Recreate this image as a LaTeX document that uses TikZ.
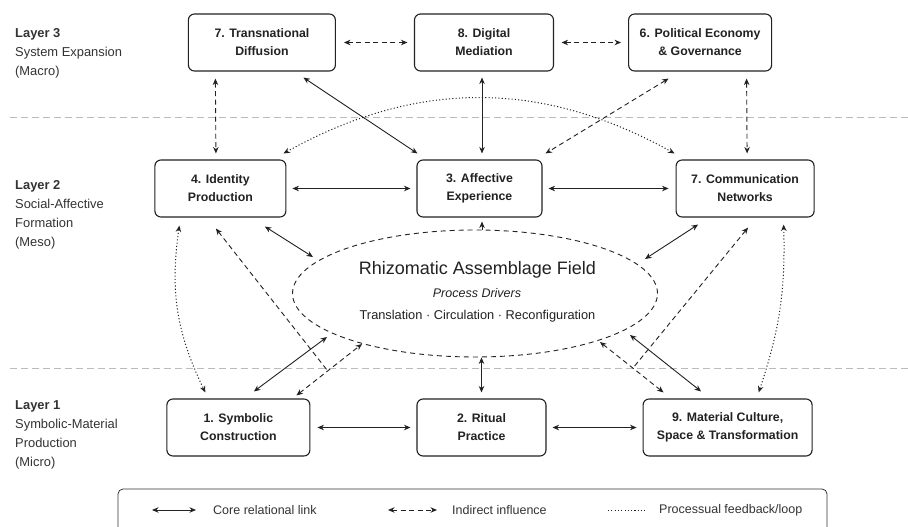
\documentclass[tikz,border=0pt]{standalone}
\usepackage{fontspec}
\setmainfont{Liberation Sans}
\usepackage{xcolor}
\definecolor{inkgrey}{HTML}{222222}
\definecolor{labelgrey}{HTML}{333333}
\definecolor{rulegrey}{HTML}{BBBBBB}
\usepackage{tikz}
\usetikzlibrary{arrows.meta}
\usetikzlibrary{positioning,shapes.geometric}

\tikzset{
  >={Stealth[length=6.5pt,width=5.5pt]},
  procbox/.style={draw=inkgrey, line width=1.1pt, rounded corners=6pt,
    align=center, minimum height=57pt, inner sep=0pt, text=inkgrey,
    font=\bfseries\fontsize{12.3}{18}\selectfont},
  core/.style={<->, draw=inkgrey, line width=0.9pt},
  indirect/.style={core, dash pattern=on 5pt off 3.5pt},
  feedback/.style={core, line width=1pt, dash pattern=on 1.1pt off 2.2pt},
  layerlabel/.style={anchor=north west, align=left, inner sep=0pt,
    text=labelgrey, font=\fontsize{12.9}{19}\selectfont},
  sepline/.style={draw=rulegrey, line width=0.8pt, dash pattern=on 7pt off 4pt},
  legendtext/.style={anchor=west, inner sep=0pt, text=labelgrey,
    font=\fontsize{12.5}{15}\selectfont},
}

\begin{document}
\begin{tikzpicture}[x=1pt, y=1pt]
    \path[fill=white, use as bounding box] (0,0) rectangle (908,-527);

    % layer separators
    \draw[sepline] (10,-117) -- (908,-117);
    \draw[sepline] (10,-368) -- (908,-368);

    % layer labels
    \node[layerlabel] (layer3) at (15,-28) {\textbf{Layer 3}\\System Expansion\\(Macro)};
    \node[layerlabel] (layer2) at (15,-180) {\textbf{Layer 2}\\Social-Affective\\Formation\\(Meso)};
    \node[layerlabel] (layer1) at (15,-400) {\textbf{Layer 1}\\Symbolic-Material\\Production\\(Micro)};

    % macro row
    \node[procbox, minimum width=139pt] (dig) at (484,-42.5) {8. Digital\\Mediation};
    \node[procbox, minimum width=147pt] (trans) [left=78pt of dig] {7. Transnational\\Diffusion};
    \node[procbox, minimum width=143pt] (pol) [right=74pt of dig] {6. Political Economy\\\& Governance};

    % meso row
    \node[procbox, minimum width=125pt] (aff) at (479.5,-188.5) {3. Affective\\Experience};
    \node[procbox, minimum width=131pt] (ident) [left=130pt of aff] {4. Identity\\Production};
    \node[procbox, minimum width=138pt] (comm) [right=133pt of aff] {7. Communication\\Networks};

    % micro row
    \node[procbox, minimum width=129pt] (rit) at (481.5,-427.5) {2. Ritual\\Practice};
    \node[procbox, minimum width=143pt] (symb) [left=106pt of rit] {1. Symbolic\\Construction};
    \node[procbox, minimum width=169pt] (mat) [right=96pt of rit] {9. Material Culture,\\Space \& Transformation};

    % assemblage field
    \node[ellipse, draw=inkgrey, line width=0.9pt, dash pattern=on 5pt off 4pt,
          minimum width=365pt, minimum height=127pt, inner sep=0pt] (field) at (475,-293.5) {};
    \node[text=inkgrey, font=\fontsize{18}{20}\selectfont] (fieldname) at (477.5,-270) {Rhizomatic Assemblage Field};
    \node[text=inkgrey, font=\itshape\fontsize{12.5}{15}\selectfont] (fielddrv) at (477,-293) {Process Drivers};
    \node[text=inkgrey, font=\fontsize{12.8}{15}\selectfont] (fieldproc) at (477.5,-316) {Translation · Circulation · Reconfiguration};

    % free tails
    \coordinate (identtail) at (327,-370);
    \coordinate (commtail) at (633,-368);

    % core links
    \draw[core] ([shift={(41.5,-6)}]trans.south) -- ([shift={(1,6)}]aff.north west);
    \draw[core] ([shift={(-2,-6)}]dig.south) -- ([shift={(2.5,6)}]aff.north);
    \draw[core] ([xshift=6pt]ident.east) -- ([xshift=-6pt]aff.west);
    \draw[core] ([xshift=6pt]aff.east) -- ([xshift=-7pt]comm.west);
    \draw[core] ([shift={(44.5,-9)}]ident.south) -- ([shift={(-162,36.5)}]field.center);
    \draw[core] ([shift={(-47,-7)}]comm.south) -- ([shift={(170,34.5)}]field.center);
    \draw[core] ([shift={(15.5,7)}]symb.north) -- ([shift={(-148,-43.5)}]field.center);
    \draw[core] ([yshift=6pt]rit.north) -- ([xshift=6.5pt]field.south);
    \draw[core] ([shift={(-26.5,7)}]mat.north) -- ([shift={(155,-41.5)}]field.center);
    \draw[core] ([xshift=7pt]symb.east) -- ([xshift=-6pt]rit.west);
    \draw[core] ([xshift=6pt]rit.east) -- ([xshift=-6pt]mat.west);

    % indirect influence
    \draw[indirect] ([xshift=8pt]trans.east) -- ([xshift=-6.5pt]dig.west);
    \draw[indirect] ([xshift=7.5pt]dig.east) -- ([xshift=-7pt]pol.west);
    \draw[indirect] ([shift={(-46.5,-7)}]trans.south) -- ([shift={(-4.5,6)}]ident.north);
    \draw[indirect] ([shift={(-31.5,-7)}]pol.south) -- ([shift={(3,6)}]aff.north east);
    \draw[indirect] ([shift={(46.5,-7)}]pol.south) -- ([shift={(2,6)}]comm.north);
    \draw[indirect, <-] ([shift={(-4.5,-11)}]ident.south) -- (identtail);
    \draw[indirect] ([shift={(-14,3)}]symb.north east) -- ([shift={(-113,-50.5)}]field.center);
    \draw[indirect, <-] ([shift={(3,-10)}]comm.south) -- (commtail);
    \draw[indirect] ([shift={(125,-48.5)}]field.center) -- ([shift={(21,6)}]mat.north west);
    \draw[indirect, ->] ([xshift=7pt]field.north) -- ([shift={(2.5,-4)}]aff.south);

    % processual feedback
    \draw[feedback] ([shift={(-3,6)}]ident.north east) to[bend left=29] ([shift={(-1,6)}]comm.north west);
    \draw[feedback] ([shift={(25,-8)}]ident.south west) to[bend right=17] ([shift={(39,6)}]symb.north west);
    \draw[feedback] ([shift={(-31,-7)}]comm.south east) to[bend left=10] ([shift={(-54,6)}]mat.north east);

    % legend
    \draw[draw=labelgrey, line width=0.8pt, rounded corners=5pt] (118,-527) |- (827,-489) -- (827,-527);
    \node[legendtext] (lgcore) at (213,-510) {Core relational link};
    \node[legendtext] (lgind) at (452,-510) {Indirect influence};
    \node[legendtext] (lgfeed) at (659,-510) {Processual feedback/loop};
    \draw[core] ([xshift=-61pt]lgcore.west) -- ([xshift=-17pt]lgcore.west);
    \draw[indirect] ([xshift=-64pt]lgind.west) -- ([xshift=-15pt]lgind.west);
    \draw[feedback, -] ([xshift=-51pt]lgfeed.west) -- ([xshift=-12pt]lgfeed.west);
\end{tikzpicture}
\end{document}
